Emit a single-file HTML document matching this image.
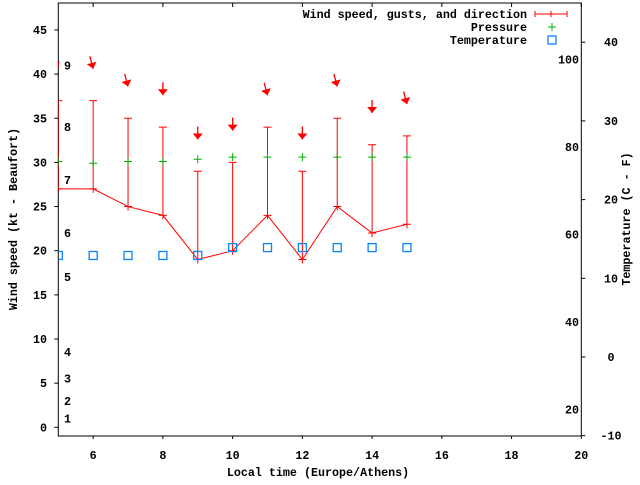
<!DOCTYPE html>
<html><head><meta charset="utf-8"><style>
body{margin:0;background:#fff}
svg text{font-family:"Liberation Mono",monospace;font-weight:bold;font-size:11.7px;fill:#000}
</style></head><body>
<svg id="chart" width="640" height="480" viewBox="0 0 640 480" xmlns="http://www.w3.org/2000/svg">
<g id="axes"></g>
<g id="marks"></g>
<g id="legend"></g>
<text transform="translate(17,219) rotate(-90)" text-anchor="middle">Wind speed (kt - Beaufort)</text>
<text x="318" y="476" text-anchor="middle">Local time (Europe/Athens)</text>
<text transform="translate(630,219) rotate(-90)" text-anchor="middle">Temperature (C - F)</text>
</svg>
<script>
const hours=[5,6,7,8,9,10,11,12,13,14,15];
const speed=[27,27,25,24,19,20,24,19,25,22,23];
const gusts=[37,37,35,34,29,30,34,29,35,32,33];
const pressure=[30.1,29.9,30.1,30.1,30.35,30.6,30.6,30.6,30.6,30.6,30.6];
const tempC=[12.9,12.9,12.9,12.9,12.9,13.9,13.9,13.9,13.9,13.9,13.9];
const dirDeg=[330,345,345,0,0,0,345,0,345,0,345];
const xTicks=[6,8,10,12,14,16,18,20];
const yTicks=[0,5,10,15,20,25,30,35,40,45];
const y2Ticks=[-10,0,10,20,30,40];
const fLabels=[20,40,60,80,100];
const bftLabels=[1,2,3,4,5,6,7,8,9];
const bftSpeeds=[1,3,5.5,8.5,17,22,28,34,41];

const L=58.3,R=581.3,T=3,B=436;
const X=v=>L+(v-5)*(R-L)/15;
const Y=v=>427.3-v*8.83;
const Y2=c=>357-c*7.87;
const NS='http://www.w3.org/2000/svg';
function mk(tag,parent,attrs){const e=document.createElementNS(NS,tag);for(const k in attrs)e.setAttribute(k,attrs[k]);parent.appendChild(e);return e;}
const ax=document.getElementById('axes'),mg=document.getElementById('marks'),lg=document.getElementById('legend');

let f=mk('rect',ax,{x:L,y:T,width:R-L,height:B-T,fill:'none',stroke:'#000','stroke-width':1});


xTicks.forEach(v=>{
  let t=mk('line',ax,{x1:X(v),x2:X(v),y1:B,y2:B+3,stroke:'#000'});
  
  
  let t2=mk('line',ax,{x1:X(v),x2:X(v),y1:T,y2:T+4,stroke:'#000'});
  
  
  let s=mk('text',ax,{x:X(v),y:459,'text-anchor':'middle'});s.textContent=v;
  
  
});
yTicks.forEach(v=>{
  let t=mk('line',ax,{x1:L-4,x2:L,y1:Y(v),y2:Y(v),stroke:'#000'});
  
  
  let s=mk('text',ax,{x:47,y:Y(v)+4,'text-anchor':'end'});s.textContent=v;
  
  
});
y2Ticks.forEach(v=>{
  let t=mk('line',ax,{x1:R,x2:R+4,y1:Y2(v),y2:Y2(v),stroke:'#000'});
  
  
  let s=mk('text',ax,{x:611,y:Y2(v)+4,'text-anchor':'middle'});s.textContent=v;
  
  
});
fLabels.forEach(v=>{
  let s=mk('text',ax,{x:579,y:Y2((v-32)*5/9)+4,'text-anchor':'end'});s.textContent=v;
  
  
});
bftLabels.forEach((v,i)=>{
  let s=mk('text',ax,{x:64,y:Y(bftSpeeds[i])+4});s.textContent=v;
  
  
});

// clip
const defs=mk('defs',mg,{});const cp=mk('clipPath',defs,{id:'clip'});mk('rect',cp,{x:L,y:T,width:R-L,height:B-T});
const g=mk('g',mg,{'clip-path':'url(#clip)'});

// wind speed line
let pts=hours.map((h,i)=>X(h)+','+Y(speed[i])).join(' ');
let pl=mk('polyline',g,{points:pts,fill:'none',stroke:'#f00','stroke-width':1});


hours.forEach((h,i)=>{
  const x=X(h),y1=Y(speed[i]),y2=Y(gusts[i]);
  let e=mk('path',g,{d:`M${x},${y1+4}V${y2}M${x-4},${y2}h8M${x-4},${y1}h8`,stroke:'#f00',fill:'none','stroke-width':1});
  
  
  // arrow
  const tipY=Y(gusts[i]+3.6),a=dirDeg[i]*Math.PI/180;
  const dx=-Math.sin(a),dy=Math.cos(a);
  const tx=x,ty=tipY,sx=tx-dx*13,sy=ty-dy*13;
  const px=-dy,py=dx;
  let ar=mk('g',g,{});
  
  
  mk('line',ar,{x1:sx,y1:sy,x2:tx,y2:ty,stroke:'#f00','stroke-width':1.3});
  const bx=tx-dx*6,by=ty-dy*6;
  mk('polygon',ar,{points:`${tx},${ty} ${bx+px*5},${by+py*5} ${bx-px*5},${by-py*5}`,fill:'#f00'});
  // pressure
  const py2=Y(pressure[i]);
  let p=mk('path',g,{d:`M${x-4},${py2}h8M${x},${py2-4}v8`,stroke:'#00b000','stroke-width':1});
  
  
  // temp
  const ty2=Y2(tempC[i]);
  let s=mk('rect',g,{x:x-4,y:ty2-4,width:8,height:8,fill:'none',stroke:'#0a84ff','stroke-width':1.3});
  
  
});

// legend
const lx=527,sx=552;
[['Wind speed, gusts, and direction',14],['Pressure',27],['Temperature',40]].forEach((d,i)=>{
  let t=mk('text',lg,{x:lx,y:d[1]+4,'text-anchor':'end'});t.textContent=d[0];
  
  
});
let l1=mk('path',lg,{d:`M535,14H567M535,11v6M567,11v6M551,11v6`,stroke:'#f00',fill:'none'});


let l2=mk('path',lg,{d:`M${sx-4},27h8M${sx},23v8`,stroke:'#00b000'});


let l3=mk('rect',lg,{x:sx-4,y:36,width:8,height:8,fill:'none',stroke:'#0a84ff','stroke-width':1.3});


</script>
</body></html>
